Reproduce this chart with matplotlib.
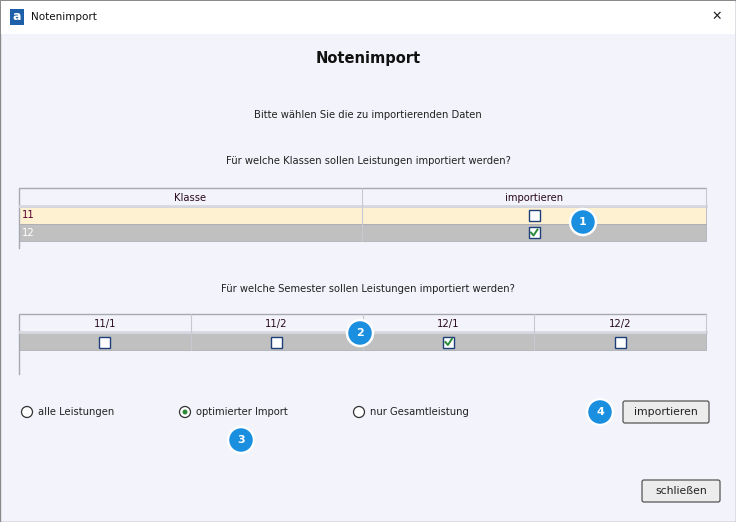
import matplotlib
matplotlib.use("Agg")
import matplotlib.pyplot as plt
from matplotlib.patches import Rectangle, Circle, FancyBboxPatch

window_title = "Notenimport"
heading = "Notenimport"
intro = "Bitte wählen Sie die zu importierenden Daten"
q_classes = "Für welche Klassen sollen Leistungen importiert werden?"
q_semesters = "Für welche Semester sollen Leistungen importiert werden?"
class_cols = ["Klasse", "importieren"]
classes = ["11", "12"]
class_checked = [False, True]
semesters = ["11/1", "11/2", "12/1", "12/2"]
semester_checked = [False, False, True, False]
radio_options = ["alle Leistungen", "optimierter Import", "nur Gesamtleistung"]
radio_selected = 1
btn_import = "importieren"
btn_close = "schließen"
badges = ["1", "2", "3", "4"]

FONT = "DejaVu Sans"
BG = "#f3f3fb"
fig = plt.figure(figsize=(7.36, 5.22), dpi=100)
ax = fig.add_axes([0, 0, 1, 1])
ax.set_xlim(0, 736); ax.set_ylim(522, 0); ax.axis("off")

def rect(x, y, w, h, fc, ec="none", lw=0.8, z=1):
    ax.add_patch(Rectangle((x, y), w, h, facecolor=fc, edgecolor=ec, lw=lw, zorder=z))

def txt(x, y, s, size=7.2, ha="center", color="#222222", weight="normal", z=5):
    ax.text(x, y, s, fontsize=size, ha=ha, va="center", color=color, weight=weight, family=FONT, zorder=z)

def checkbox(x, y, checked):
    rect(x - 5.5, y - 5.5, 11, 11, "white", "#1f3f7a", 1.0, z=4)
    if checked:
        ax.plot([x - 3, x - 0.5, x + 3.5], [y, y + 3, y - 3], color="#2a8a3a", lw=1.4, zorder=5)

def badge(x, y, s):
    ax.add_patch(Circle((x, y), 14, facecolor="#bbbbbb", edgecolor="none", zorder=6, alpha=0.6))
    ax.add_patch(Circle((x, y), 13, facecolor="#1a8fe0", edgecolor="white", lw=1.8, zorder=7))
    txt(x, y, s, size=8, color="white", weight="bold", z=8)

def table_frame(y0, h):
    ax.plot([x0, x0, x1], [y0 + h, y0, y0], color="#a8a8b4", lw=1.0, zorder=3)
    ax.plot([x0 + 1, x1], [y0 + 18, y0 + 18], color="#d8d8e0", lw=2.0, zorder=3)
    ax.plot([x1, x1], [y0, y0 + 19], color="#c8c8d0", lw=0.8, zorder=3)

# window
rect(0, 0, 736, 522, BG, "#8a8a8a", 1.0, z=0)
rect(1, 1, 734, 33, "white", z=1)
rect(10, 9, 14, 16, "#1d5fa8", z=2)
txt(17, 17, "a", size=9, color="white", weight="bold")
txt(31, 17, window_title, size=7.5, ha="left", color="#111111")
txt(717, 16, "✕", size=9, color="#222222")

txt(368, 59, heading, size=10.5, weight="bold", color="#111111")
txt(368, 115, intro)
txt(368, 161, q_classes)

# class table
x0, x1 = 19, 706
table_frame(188, 60)
mid = 362
ax.plot([mid, mid], [188, 241], color="#c8c8d0", lw=0.8, zorder=3)
txt((x0 + mid) / 2, 198, class_cols[0], color="#2a0a20")
txt((mid + x1) / 2, 198, class_cols[1], color="#2a0a20")
row_fc = ["#fdf1d2", "#c0c0c0"]
row_tc = ["#5a0030", "white"]
for i, (c, chk) in enumerate(zip(classes, class_checked)):
    y = 207 + 17 * i
    rect(x0, y, x1 - x0, 17, row_fc[i], "#a8a8b0", 0.5, z=2)
    txt(22, y + 8.5, c, ha="left", color=row_tc[i])
    checkbox(534, y + 8.5, chk)
badge(583, 222, badges[0])

txt(368, 289, q_semesters)

# semester table
table_frame(314, 60)
rect(x0, 333, x1 - x0, 17, "#c0c0c0", "#a8a8b0", 0.5, z=2)
cw = (x1 - x0) / len(semesters)
for i, (s, chk) in enumerate(zip(semesters, semester_checked)):
    cx = x0 + cw * (i + 0.5)
    if i:
        ax.plot([x0 + cw * i] * 2, [314, 350], color="#c8c8d0", lw=0.8, zorder=3)
    txt(cx, 324, s, color="#2a0a20")
    checkbox(cx, 342, chk)
badge(360, 333, badges[1])

# radios
rx = [27, 185, 359]
for i, (x, s) in enumerate(zip(rx, radio_options)):
    ax.add_patch(Circle((x, 412), 5.5, facecolor="white", edgecolor="#333333", lw=0.9, zorder=4))
    if i == radio_selected:
        ax.add_patch(Circle((x, 412), 2.5, facecolor="#2a8a3a", edgecolor="none", zorder=5))
    txt(x + 11, 412, s, ha="left")
badge(241, 440, badges[2])
badge(600, 412, badges[3])

def button(x, y, w, h, s):
    ax.add_patch(FancyBboxPatch((x, y), w, h, boxstyle="round,pad=0,rounding_size=2",
                                facecolor="#ececec", edgecolor="#555555", lw=0.9, zorder=4))
    txt(x + w / 2, y + h / 2, s, size=7.8)

button(623, 401, 86, 22, btn_import)
button(642, 480, 78, 22, btn_close)

fig.savefig("out.png", dpi=100)
